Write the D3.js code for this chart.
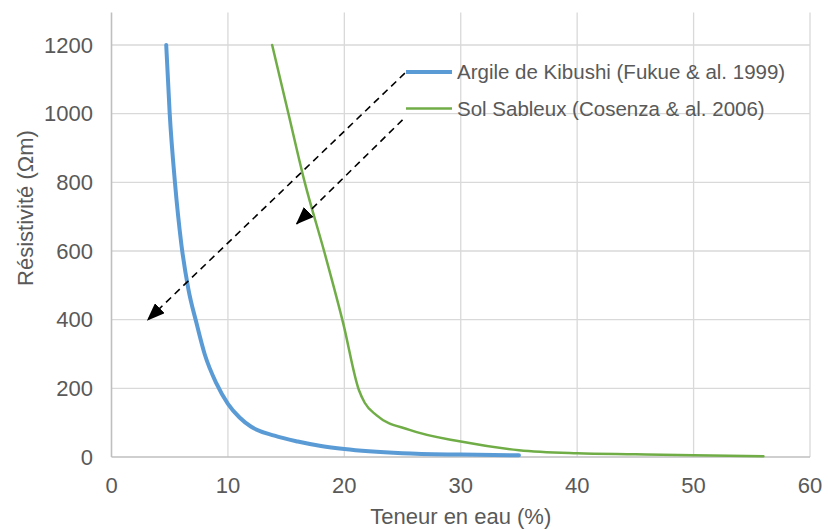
<!DOCTYPE html>
<html><head><meta charset="utf-8">
<script src="https://cdn.jsdelivr.net/npm/d3@7"></script>
<style>body{margin:0;background:#fff}svg{display:block}text{font-family:"Liberation Sans",Arial,sans-serif}</style>
</head><body><svg id="c" width="828" height="530"></svg>
<script>
const xTicks=[0,10,20,30,40,50,60];
const yTicks=[0,200,400,600,800,1000,1200];
const seriesNames=["Argile de Kibushi (Fukue & al. 1999)","Sol Sableux (Cosenza & al. 2006)"];
const seriesColors=["#5b9bd5","#70ad47"];
const kibushiX=[4.7,5.0,5.45,6.0,6.6,7.3,8,9,10,11,12,14,16,18,20,25,30,35];
const kibushiY=[1200,1000,800,620,490,390,300,215,155,115,88,62,45,32,23,11,7,5];
const sableuxX=[13.8,15.2,16.6,18.3,19.9,21.25,21.75,22.75,25.6,30,35,40,45,50,56];
const sableuxY=[1200,1000,800,595,390,195,158,122,79,45,20,11,8,5,2];
// annotation arrows in data units [x1,y1,x2,y2]
const arrows=[[25.2,1118,3.1,399],[25.0,982,15.9,679]];

const svg=d3.select("#c");
const m={l:111.5,r:810,t:12.5,b:457};
const x=d3.scaleLinear().domain([0,60]).range([m.l,m.r]);
const y=d3.scaleLinear().domain([0,1200]).range([m.b,45]);
const grey="#595959";

// grid
svg.append("g").selectAll("line").data(xTicks.slice(1)).join("line")
 .attr("x1",d=>x(d)).attr("x2",d=>x(d)).attr("y1",m.t).attr("y2",m.b)
 .attr("stroke","#d9d9d9").attr("stroke-width",1.3);
svg.append("g").selectAll("line").data(yTicks.slice(1)).join("line")
 .attr("x1",m.l).attr("x2",m.r).attr("y1",d=>y(d)).attr("y2",d=>y(d))
 .attr("stroke","#d9d9d9").attr("stroke-width",1.3);
// axes lines
svg.append("line").attr("x1",m.l).attr("x2",m.l).attr("y1",m.t).attr("y2",m.b).attr("stroke","#bfbfbf").attr("stroke-width",1.6);
svg.append("line").attr("x1",m.l).attr("x2",m.r).attr("y1",m.b).attr("y2",m.b).attr("stroke","#bfbfbf").attr("stroke-width",1.6);

// tick labels
svg.append("g").selectAll("text").data(xTicks).join("text")
 .attr("x",d=>x(d)).attr("y",493).attr("text-anchor","middle")
 .attr("font-size",22).attr("fill",grey).text(d=>d);
svg.append("g").selectAll("text").data(yTicks).join("text")
 .attr("x",93).attr("y",d=>y(d)+7.5).attr("text-anchor","end")
 .attr("font-size",22).attr("fill",grey).text(d=>d);

// axis titles
svg.append("text").attr("x",x(30)).attr("y",524).attr("text-anchor","middle")
 .attr("font-size",22).attr("fill",grey).text("Teneur en eau (%)");
svg.append("text").attr("transform","translate(33,208) rotate(-90)")
 .attr("text-anchor","middle").attr("font-size",22).attr("fill",grey).text("Résistivité (Ωm)");

// series
const line=d3.line().x(d=>x(d[0])).y(d=>y(d[1])).curve(d3.curveMonotoneX);
const s1=kibushiX.map((v,i)=>[v,kibushiY[i]]);
const s2=sableuxX.map((v,i)=>[v,sableuxY[i]]);
svg.append("path").datum(s1).attr("d",line).attr("fill","none").attr("stroke",seriesColors[0]).attr("stroke-width",4).attr("stroke-linecap","round");
svg.append("path").datum(s2).attr("d",line).attr("fill","none").attr("stroke",seriesColors[1]).attr("stroke-width",2.5).attr("stroke-linecap","round");

// arrows
svg.append("defs").append("marker").attr("id","ah").attr("viewBox","0 0 18 14")
 .attr("refX",17).attr("refY",7).attr("markerWidth",18).attr("markerHeight",14)
 .attr("markerUnits","userSpaceOnUse").attr("orient","auto")
 .append("path").attr("d","M0,0 L18,7 L0,14 Z").attr("fill","#000");
svg.selectAll(".arr").data(arrows).join("line").attr("class","arr")
 .attr("x1",d=>x(d[0])).attr("y1",d=>y(d[1])).attr("x2",d=>x(d[2])).attr("y2",d=>y(d[3]))
 .attr("stroke","#000").attr("stroke-width",1.6).attr("stroke-dasharray","7,5")
 .attr("marker-end","url(#ah)");

// legend
const lg=svg.append("g");
seriesNames.forEach((n,i)=>{
  const yy=72+i*36.5;
  lg.append("line").attr("x1",406).attr("x2",452).attr("y1",yy).attr("y2",yy)
   .attr("stroke",seriesColors[i]).attr("stroke-width",i===0?4:2.5);
  lg.append("text").attr("x",457).attr("y",yy+7).attr("font-size",20.5).attr("fill",grey).text(n);
});
</script></body></html>
